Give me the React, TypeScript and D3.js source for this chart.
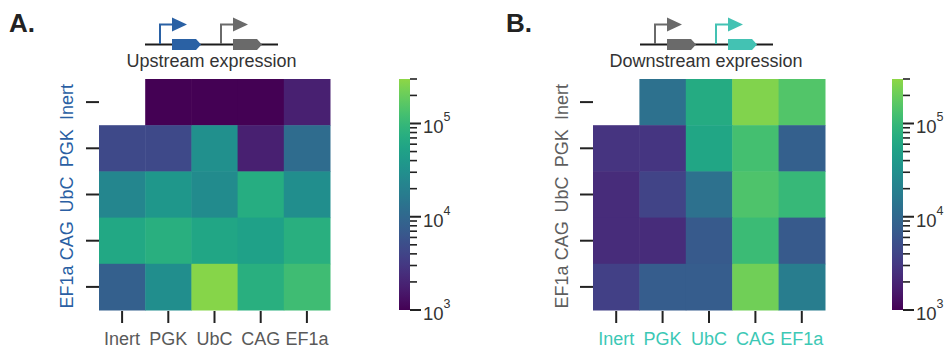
import React, { useEffect, useRef } from "react";
import * as d3 from "d3";

// promoter names, same order on both axes
const promoters = ["Inert", "PGK", "UbC", "CAG", "EF1a"];

// rows = y promoter (upstream), cols = x promoter (downstream); null = empty cell
const upstreamValues: (number | null)[][] = [
  [null, 1000, 1000, 1000, 1850],
  [4500, 4500, 31000, 1850, 11000],
  [23500, 38000, 27000, 70000, 29000],
  [62000, 76000, 58000, 50000, 76000],
  [8000, 29000, 280000, 76000, 115000],
];

const downstreamValues: (number | null)[][] = [
  [null, 12700, 66000, 263000, 150000],
  [2800, 2900, 58000, 123000, 8000],
  [2300, 4000, 12700, 140000, 100000],
  [2300, 2300, 6900, 107000, 6900],
  [3700, 7400, 7400, 215000, 17800],
];

const colorDomain = [1e3, 3e5];
const majorTicks = [1e3, 1e4, 1e5];

const FONT = "'Liberation Sans', Arial, Helvetica, sans-serif";

export default function App() {
  const ref = useRef<SVGSVGElement>(null);

  useEffect(() => {
    const svg = d3.select(ref.current);
    svg.selectAll("*").remove();

    // viridis, cut short at the light green end
    const tScale = d3.scaleLog().domain(colorDomain).range([0, 0.83]).clamp(true);
    const color = (v: number) => d3.interpolateViridis(tScale(v));

    const defs = svg.append("defs");
    const grad = defs
      .append("linearGradient")
      .attr("id", "cbar")
      .attr("x1", 0)
      .attr("y1", 1)
      .attr("x2", 0)
      .attr("y2", 0);
    d3.range(0, 1.0001, 0.05).forEach((f) => {
      grad
        .append("stop")
        .attr("offset", f)
        .attr("stop-color", d3.interpolateViridis(f * 0.83));
    });

    const panels = [
      {
        letter: "A.",
        letterX: 9,
        title: "Upstream expression",
        values: upstreamValues,
        x0: 99,
        x1: 330,
        y0: 79,
        y1: 310,
        yLabelX: 67,
        yColor: "#2a5fa3",
        xColor: "#595959",
        cbX: 399,
      },
      {
        letter: "B.",
        letterX: 506,
        title: "Downstream expression",
        values: downstreamValues,
        x0: 593,
        x1: 825,
        y0: 79,
        y1: 310,
        yLabelX: 562,
        yColor: "#5e5e5e",
        xColor: "#3cc8b5",
        cbX: 892,
      },
    ];

    panels.forEach((p) => {
      const g = svg.append("g");

      // panel letter
      g.append("text")
        .attr("x", p.letterX)
        .attr("y", 32)
        .attr("font-size", 26)
        .attr("font-weight", "bold")
        .attr("fill", "#222")
        .text(p.letter);

      // title
      g.append("text")
        .attr("x", (p.x0 + p.x1) / 2 - 3)
        .attr("y", 67)
        .attr("text-anchor", "middle")
        .attr("font-size", 18)
        .attr("fill", "#333")
        .text(p.title);

      const x = d3.scaleBand().domain(promoters).range([p.x0, p.x1]);
      const y = d3.scaleBand().domain(promoters).range([p.y0, p.y1]);

      // cells
      p.values.forEach((row, i) => {
        row.forEach((v, j) => {
          if (v == null) return;
          g.append("rect")
            .attr("x", x(promoters[j])!)
            .attr("y", y(promoters[i])!)
            .attr("width", x.bandwidth() + 0.5)
            .attr("height", y.bandwidth() + 0.5)
            .attr("fill", color(v));
        });
      });

      // y ticks + labels
      promoters.forEach((name) => {
        const cy = y(name)! + y.bandwidth() / 2;
        g.append("line")
          .attr("x1", p.x0 - 13)
          .attr("x2", p.x0)
          .attr("y1", cy)
          .attr("y2", cy)
          .attr("stroke", "#222")
          .attr("stroke-width", 2);
        g.append("text")
          .attr("transform", `translate(${p.yLabelX},${cy}) rotate(-90)`)
          .attr("text-anchor", "middle")
          .attr("dominant-baseline", "central")
          .attr("font-size", 18)
          .attr("fill", p.yColor)
          .text(name);
      });

      // x ticks + labels
      promoters.forEach((name) => {
        const cx = x(name)! + x.bandwidth() / 2;
        g.append("line")
          .attr("x1", cx)
          .attr("x2", cx)
          .attr("y1", p.y1 + 1)
          .attr("y2", p.y1 + 13)
          .attr("stroke", "#222")
          .attr("stroke-width", 2);
        g.append("text")
          .attr("x", cx)
          .attr("y", 345)
          .attr("text-anchor", "middle")
          .attr("font-size", 18)
          .attr("fill", p.xColor)
          .text(name);
      });

      // colorbar
      const cbTop = 79,
        cbBottom = 310,
        cbW = 11;
      const cb = d3.scaleLog().domain(colorDomain).range([cbBottom, cbTop]);
      g.append("rect")
        .attr("x", p.cbX)
        .attr("y", cbTop)
        .attr("width", cbW)
        .attr("height", cbBottom - cbTop)
        .attr("fill", "url(#cbar)");

      cb.ticks().forEach((t) => {
        const major = majorTicks.includes(t);
        g.append("line")
          .attr("x1", p.cbX + cbW)
          .attr("x2", p.cbX + cbW + (major ? 11 : 7))
          .attr("y1", cb(t))
          .attr("y2", cb(t))
          .attr("stroke", "#222")
          .attr("stroke-width", major ? 2 : 1.6);
      });
      majorTicks.forEach((t) => {
        const txt = g
          .append("text")
          .attr("x", p.cbX + cbW + 13)
          .attr("y", cb(t) + 10)
          .attr("font-size", 18.5)
          .attr("fill", "#333");
        txt.append("tspan").text("10");
        txt
          .append("tspan")
          .attr("dy", -12)
          .attr("font-size", 12.5)
          .text(String(Math.round(Math.log10(t))));
      });
    });

    // little gene diagrams above the heatmaps
    const blue = "#2a61a4",
      grey = "#6a6a6a",
      teal = "#43c2b3";

    const promoter = (px: number, fill: string) => {
      const arm = svg.append("g");
      arm
        .append("path")
        .attr("d", `M${px},44 V24.5 H${px + 13}`)
        .attr("fill", "none")
        .attr("stroke", fill)
        .attr("stroke-width", 2);
      arm
        .append("path")
        .attr("d", `M${px + 12},17.5 L${px + 27},24.5 L${px + 12},31.5 Z`)
        .attr("fill", fill);
    };
    const gene = (gx: number, fill: string) => {
      svg
        .append("path")
        .attr("d", `M${gx},39 H${gx + 24} L${gx + 29},44.5 L${gx + 24},50 H${gx} Z`)
        .attr("fill", fill);
    };
    const backbone = (a: number, b: number) => {
      svg
        .append("line")
        .attr("x1", a)
        .attr("x2", b)
        .attr("y1", 44.5)
        .attr("y2", 44.5)
        .attr("stroke", "#1c1c1c")
        .attr("stroke-width", 2);
    };

    backbone(145, 278);
    promoter(160, blue);
    gene(172, blue);
    promoter(221, grey);
    gene(233, grey);

    backbone(640, 773);
    promoter(655, grey);
    gene(667, grey);
    promoter(716, teal);
    gene(728, teal);
  }, []);

  return (
    <svg
      ref={ref}
      width={948}
      height={350}
      style={{ position: "absolute", left: 0, top: 0, fontFamily: FONT }}
    />
  );
}
